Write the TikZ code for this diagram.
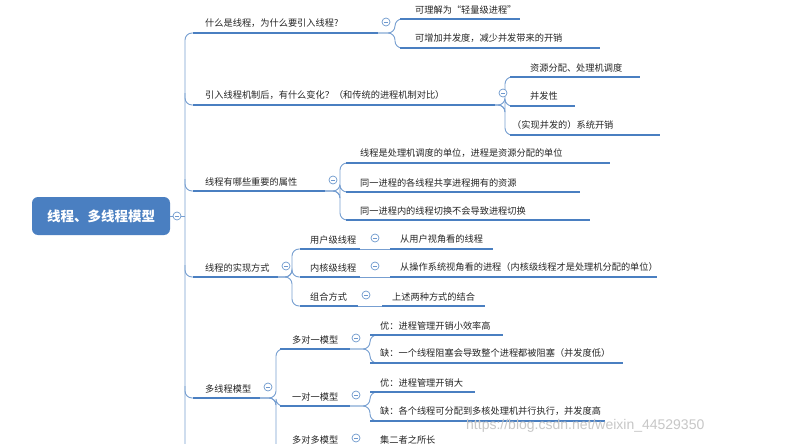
\documentclass[tikz,border=0pt]{standalone}
\usepackage{fontspec}
\newfontfamily\cjk{Noto Sans CJK SC}
\begin{document}
\begin{tikzpicture}[x=1pt,y=-1pt,
  ul/.style={draw=lineblue,line width=2.4pt},
  thin/.style={draw=lineblue!75,line width=0.9pt,rounded corners=7pt},
  txt/.style={anchor=south west,inner sep=0pt,font=\cjk\fontsize{9.2}{10}\selectfont,text=black!85},
  minus/.style={circle,draw=lineblue!80,fill=white,line width=0.7pt,minimum size=8pt,inner sep=0pt,
    path picture={\draw[lineblue!80,line width=0.7pt] ([xshift=-2pt]path picture bounding box.center) -- ([xshift=2pt]path picture bounding box.center);}}]
\definecolor{lineblue}{HTML}{4A7FC1}
\useasboundingbox (0,0) rectangle (790,444);
\fill[white] (0,0) rectangle (790,444);
\newcommand\lf[6]{% name, x, y, xend, text-x, text
  \draw[ul] (#2,#3) -- (#4,#3);
  \node[txt] (#1) at (#5,#3-5) {#6};}
% trunk
\draw[thin] (193,33) -| (185,444);
\foreach \yy in {105,191,277,398} {\draw[thin] (185,\yy-12) |- (193,\yy);}
% root
\node[fill=lineblue,rounded corners=6pt,minimum width=138pt,minimum height=38pt,text=white,font=\cjk\bfseries\fontsize{13.5}{15}\selectfont] (root) at (101,216) {线程、多线程模型};
\draw[thin] (root.east) -- (185,216);
\node[minus] (m0) at (177,216) {};
% branch 1
\lf{b1}{193}{33}{378}{205}{什么是线程，为什么要引入线程?}
\draw[thin] (378,33) -| (395,19) -- (400,19); \draw[thin] (378,33) -| (395,48) -- (400,48);
\node[minus] (m1) at (386,22) {};
\lf{c11}{400}{19}{520}{415}{可理解为“轻量级进程”}
\lf{c12}{400}{48}{600}{415}{可增加并发度，减少并发带来的开销}
% branch 2
\lf{b2}{193}{105}{495}{205}{引入线程机制后，有什么变化？（和传统的进程机制对比）}
\foreach \yy in {77,106,135} {\draw[thin] (495,105) -| (505,\yy) -- (512,\yy);}
\node[minus] (m2) at (503,93) {};
\lf{c21}{510}{77}{640}{530}{资源分配、处理机调度}
\lf{c22}{510}{106}{575}{530}{并发性}
\lf{c23}{510}{135}{660}{512}{（实现并发的）系统开销}
% branch 3
\lf{b3}{193}{191}{325}{205}{线程有哪些重要的属性}
\foreach \yy in {163,192,220} {\draw[thin] (325,191) -| (340,\yy) -- (348,\yy);}
\node[minus] (m3) at (333,180) {};
\lf{c31}{346}{163}{610}{360}{线程是处理机调度的单位，进程是资源分配的单位}
\lf{c32}{346}{192}{580}{360}{同一进程的各线程共享进程拥有的资源}
\lf{c33}{346}{220}{590}{360}{同一进程内的线程切换不会导致进程切换}
% branch 4
\lf{b4}{193}{277}{278}{205}{线程的实现方式}
\foreach \yy in {249,277,306} {\draw[thin] (278,277) -| (292,\yy) -- (300,\yy);}
\node[minus] (m4) at (286,266) {};
\lf{c41}{300}{249}{360}{310}{用户级线程}
\draw[thin] (360,249) -- (390,249); \node[minus] (m41) at (375,238) {};
\lf{d41}{390}{249}{493}{400}{从用户视角看的线程}
\lf{c42}{300}{277}{360}{310}{内核级线程}
\draw[thin] (360,277) -- (390,277); \node[minus] (m42) at (375,266) {};
\lf{d42}{390}{277}{657}{400}{从操作系统视角看的进程（内核级线程才是处理机分配的单位）}
\lf{c43}{300}{306}{358}{310}{组合方式}
\draw[thin] (358,306) -- (382,306); \node[minus] (m43) at (366,295) {};
\lf{d43}{382}{306}{485}{392}{上述两种方式的结合}
% branch 5
\lf{b5}{193}{398}{260}{205}{多线程模型}
\draw[thin] (260,398) -| (276,349) -- (282,349);
\draw[thin] (260,398) -| (276,406) -- (282,406);
\draw[thin] (260,398) -| (276,444);
\node[minus] (m5) at (268,387) {};
\lf{c51}{280}{349}{350}{292}{多对一模型}
\draw[thin] (350,349) -| (370,335) -- (372,335); \draw[thin] (350,349) -| (370,363) -- (372,363);
\node[minus] (m51) at (356,338) {};
\lf{d511}{370}{335}{503}{380}{优：进程管理开销小效率高}
\lf{d512}{370}{363}{623}{380}{缺：一个线程阻塞会导致整个进程都被阻塞（并发度低）}
\lf{c52}{280}{406}{350}{292}{一对一模型}
\draw[thin] (350,406) -| (370,392) -- (372,392); \draw[thin] (350,406) -| (370,421) -- (372,421);
\node[minus] (m52) at (356,395) {};
\lf{d521}{370}{392}{475}{380}{优：进程管理开销大}
\lf{d522}{370}{421}{605}{380}{缺：各个线程可分配到多核处理机并行执行，并发度高}
\node[txt] (c53) at (292,444) {多对多模型};
\node[minus] (m53) at (356,438) {};
\node[txt] (d53) at (380,444) {集二者之所长};
\node[anchor=south west,inner sep=0pt,text=black!22,font=\fontspec{Liberation Sans}\fontsize{14}{14}\selectfont] (wm) at (466,433) {https://blog.csdn.net/weixin\_44529350};
\end{tikzpicture}
\end{document}
